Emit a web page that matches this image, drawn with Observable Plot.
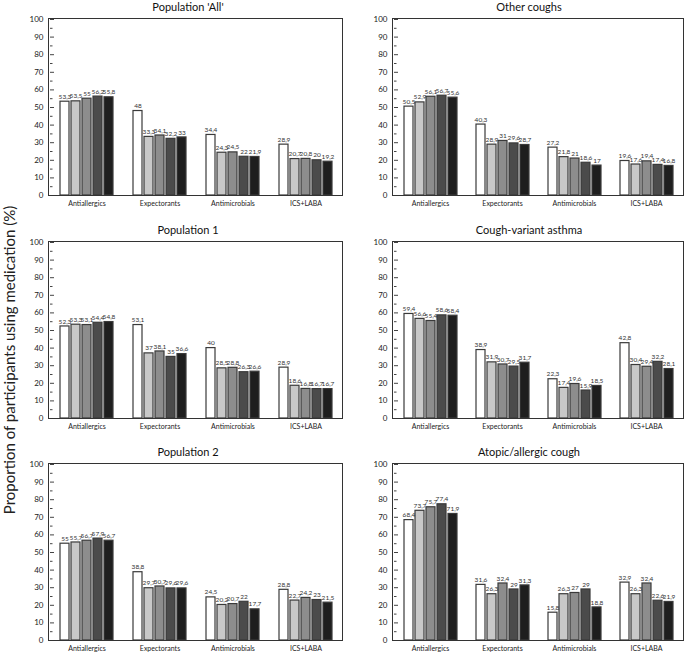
<!DOCTYPE html>
<html><head><meta charset="utf-8">
<script src="https://cdn.jsdelivr.net/npm/d3@7"></script>
<script src="https://cdn.jsdelivr.net/npm/@observablehq/plot@0.6"></script>
<style>
body{margin:0;background:#fff;font-family:Lato, sans-serif;}
#root{position:relative;width:685px;height:654px;overflow:hidden;}
.panel{position:absolute;}
.title{position:absolute;font-size:11px;color:#111;transform:translate(-50%,-50%);white-space:nowrap;}
.frame{position:absolute;border:1.3px solid #333;box-sizing:border-box;pointer-events:none;}
.ylab{position:absolute;left:9px;top:360px;transform:translate(-50%,-50%) rotate(-90deg);font-size:15px;color:#222;white-space:nowrap;}
</style></head><body><div id="root"></div>
<script>
const categories = ["Antiallergics", "Expectorants", "Antimicrobials", "ICS+LABA"];
const seriesNames = ["Series 1", "Series 2", "Series 3", "Series 4", "Series 5"];
const seriesFills = ["#ffffff", "#c8c8c8", "#8d8d8d", "#4b4b4b", "#1e1e1e"];
const yTicks = [0, 10, 20, 30, 40, 50, 60, 70, 80, 90, 100];
const yMinorTicks = [5, 15, 25, 35, 45, 55, 65, 75, 85, 95];
const yLabel = "Proportion of participants using medication (%)";

// rows = categories, columns = series
const popAll = [[53.3, 53.5, 55, 56.2, 55.8], [48, 33.3, 34.1, 32.2, 33], [34.4, 24.3, 24.5, 22, 21.9], [28.9, 20.7, 20.8, 20, 19.2]];
const otherCoughs = [[50.5, 52.9, 56.1, 56.7, 55.6], [40.3, 28.9, 31, 29.6, 28.7], [27.2, 21.8, 21, 18.6, 17], [19.6, 17.6, 19.4, 17.4, 16.8]];
const pop1 = [[52.3, 53.3, 53.1, 54.4, 54.8], [53.1, 37, 38.1, 35, 36.6], [40, 28.5, 28.8, 26.3, 26.6], [28.9, 18.6, 16.8, 16.7, 16.7]];
const cva = [[59.4, 56.6, 55.4, 58.6, 58.4], [38.9, 31.9, 30.7, 29.5, 31.7], [22.3, 17.4, 19.6, 15.9, 18.5], [42.8, 30.4, 29.4, 32.2, 28.1]];
const pop2 = [[55, 55.7, 56.7, 57.9, 56.7], [38.8, 29.7, 30.7, 29.6, 29.6], [24.5, 20.2, 20.7, 22, 17.7], [28.8, 22.7, 24.2, 23, 21.5]];
const atopic = [[68.4, 73.7, 75.7, 77.4, 71.9], [31.6, 26.3, 32.4, 29, 31.3], [15.8, 26.3, 27, 29, 18.8], [32.9, 26.3, 32.4, 22.6, 21.9]];

const panelTitles = ["Population 'All'", "Other coughs", "Population 1", "Cough-variant asthma", "Population 2", "Atopic/allergic cough"];
const panelData = [popAll, otherCoughs, pop1, cva, pop2, atopic];

// layout (pixels)
const colFrameLeft = [49, 393], colFrameWidth = [293, 290];
const rowFrameTop = [19, 242, 464], frameHeight = 176;
const colTitleX = [188, 529];
const ML = 30, MR = 2, MT = 12, MB = 16;

const root = document.getElementById("root");
const fmt = v => String(v).replace(".", ",");

panelData.forEach((mat, i) => {
  const col = i % 2, row = Math.floor(i / 2);
  const rows = [];
  categories.forEach((c, ci) => seriesNames.forEach((s, si) => rows.push({category: c, series: s, value: mat[ci][si]})));
  const fw = colFrameWidth[col];
  const plot = Plot.plot({
    width: fw + ML + MR, height: frameHeight + MT + MB,
    marginLeft: ML, marginRight: MR, marginTop: MT, marginBottom: MB,
    style: {fontFamily: "Lato, sans-serif", color: "#222", background: "transparent", overflow: "visible"},
    fx: {domain: categories, padding: 0, label: null},
    x: {domain: seriesNames, paddingInner: 0.2, paddingOuter: 0.87, axis: null},
    y: {domain: [0, 100], label: null},
    color: {domain: seriesNames, range: seriesFills},
    marks: [
      Plot.axisFx({anchor: "bottom", tickSize: 0, tickPadding: 6, fontSize: 7, label: null}),
      Plot.axisY({ticks: yTicks, tickSize: 0, tickPadding: 7, fontSize: 8, label: null}),
      Plot.axisY({ticks: yTicks, tickSize: 4, dx: 4, fill: "none", label: null, stroke: "#444"}),
      Plot.axisY({ticks: yMinorTicks, tickSize: 2.5, dx: 2.5, fill: "none", label: null, stroke: "#444"}),
      Plot.barY(rows, {fx: "category", x: "series", y: "value", fill: "series", stroke: "#3a3a3a", strokeWidth: 1.2}),
      Plot.text(rows, {fx: "category", x: "series", y: "value", text: d => fmt(d.value), dy: -5, fontSize: 6.5, fill: "#333"})
    ]
  });
  const div = document.createElement("div");
  div.className = "panel";
  div.style.left = (colFrameLeft[col] - ML) + "px";
  div.style.top = (rowFrameTop[row] - MT) + "px";
  div.appendChild(plot);
  root.appendChild(div);

  const fr = document.createElement("div");
  fr.className = "frame";
  fr.style.left = (colFrameLeft[col] - 0.65) + "px";
  fr.style.top = (rowFrameTop[row] - 0.65) + "px";
  fr.style.width = (fw + 1.3) + "px";
  fr.style.height = (frameHeight + 1.3) + "px";
  root.appendChild(fr);

  const t = document.createElement("div");
  t.className = "title";
  t.textContent = panelTitles[i];
  t.style.left = colTitleX[col] + "px";
  t.style.top = (rowFrameTop[row] - 13) + "px";
  root.appendChild(t);
});

const yl = document.createElement("div");
yl.className = "ylab";
yl.textContent = yLabel;
root.appendChild(yl);
</script>
</body></html>
